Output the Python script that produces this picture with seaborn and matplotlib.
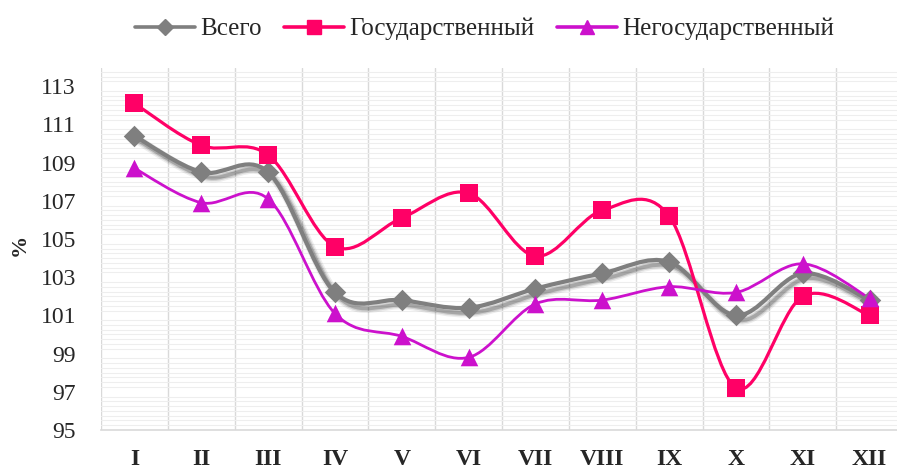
import numpy as np
import matplotlib
matplotlib.use("Agg")
import matplotlib.pyplot as plt
import matplotlib.patheffects as pe
from matplotlib.path import Path
from matplotlib.patches import PathPatch
from matplotlib.lines import Line2D
from matplotlib.ticker import MultipleLocator
import seaborn as sns

months = ["I", "II", "III", "IV", "V", "VI", "VII", "VIII", "IX", "X", "XI", "XII"]
total = [110.4, 108.5, 108.5, 102.2, 101.8, 101.4, 102.4, 103.2, 103.8, 101.0, 103.2, 101.8]
state = [112.1, 109.9, 109.4, 104.6, 106.1, 107.4, 104.1, 106.5, 106.2, 97.2, 102.0, 101.0]
nonstate = [108.7, 106.9, 107.1, 101.1, 99.9, 98.8, 101.6, 101.8, 102.5, 102.2, 103.7, 101.9]

series = [
    ("Всего", total, "#7f7f7f", "D", 3.0, 120),
    ("Государственный", state, "#ff0066", "s", 2.3, 160),
    ("Негосударственный", nonstate, "#cc11cc", "^", 2.0, 160),
]

SERIF = "Liberation Serif"


def smooth_path(xs, ys):
    # Excel-like smoothed line: cubic Bezier segments (Catmull-Rom control points)
    pts = np.column_stack([xs, ys]).astype(float)
    n = len(pts)
    verts = [pts[0]]
    codes = [Path.MOVETO]
    for i in range(n - 1):
        p0 = pts[i - 1] if i > 0 else pts[i]
        p1, p2 = pts[i], pts[i + 1]
        p3 = pts[i + 2] if i + 2 < n else pts[i + 1]
        c1 = p1 + (p2 - p0) / 6.0
        c2 = p2 - (p3 - p1) / 6.0
        verts += [c1, c2, p2]
        codes += [Path.CURVE4] * 3
    return Path(verts, codes)


sns.set_style("white")
fig = plt.figure(figsize=(8.97, 4.73), dpi=100)
ax = fig.add_axes([101 / 897, 43 / 473, 802 / 897, 362 / 473])

x = np.arange(len(months))
for name, vals, color, marker, lw, ms in series:
    patch = PathPatch(smooth_path(x, vals), facecolor="none", edgecolor=color,
                      linewidth=lw, capstyle="round", joinstyle="round", zorder=3)
    if name == "Всего":
        # soft drop shadow, offset down-right
        patch.set_path_effects([
            pe.SimpleLineShadow(offset=(3, -3.5), shadow_color="k", alpha=0.07, linewidth=lw * 2.2),
            pe.SimpleLineShadow(offset=(3, -3.5), shadow_color="k", alpha=0.12, linewidth=lw * 1.5),
            pe.SimpleLineShadow(offset=(3, -3.5), shadow_color="k", alpha=0.2, linewidth=lw * 0.9),
            pe.Normal(),
        ])
    ax.add_patch(patch)
    sns.scatterplot(x=x, y=vals, marker=marker, s=ms, color=color,
                    edgecolor=color, linewidth=0, ax=ax, zorder=4)

ax.set_xlim(-0.5, 11.5)
ax.set_ylim(95, 113.95)
ax.set_yticks(np.arange(95, 114, 2))
ax.set_xticks(x)
ax.set_xticklabels(months)
ax.xaxis.set_minor_locator(MultipleLocator(1, offset=0.5))
ax.yaxis.set_minor_locator(MultipleLocator(0.25))
ax.grid(False)
ax.grid(which="minor", axis="y", color="#eeeeee", linewidth=0.8, zorder=0)
ax.grid(which="minor", axis="x", color="#d9d9d9", linewidth=1.0, zorder=1)
ax.tick_params(which="both", length=0)
ax.tick_params(axis="y", pad=18, labelsize=17)
ax.tick_params(axis="x", pad=14, labelsize=17)
for lab in ax.get_yticklabels():
    lab.set_fontfamily(SERIF)
for lab in ax.get_xticklabels():
    lab.set_fontfamily(SERIF)
    lab.set_fontweight("bold")
for s in ["top", "right", "left"]:
    ax.spines[s].set_visible(False)
ax.spines["bottom"].set_color("#d9d9d9")
ax.spines["bottom"].set_linewidth(1.2)
fig.text(20 / 897, 1 - 245 / 473, "%", rotation=90, ha="center", va="center",
         fontsize=16, fontweight="bold", fontfamily=SERIF)

handles = [Line2D([0], [0], color=c, lw=2.6, marker=m, markersize=8 if m == "D" else 10)
           for _, _, c, m, lw, _ in series]
fig.legend(handles, [s[0] for s in series], loc="upper center", bbox_to_anchor=(0.54, 1.01),
           ncol=3, frameon=False, prop={"family": SERIF, "size": 18},
           handlelength=2.4, handletextpad=0.2, columnspacing=0.9)

fig.savefig("out.png", dpi=100)
